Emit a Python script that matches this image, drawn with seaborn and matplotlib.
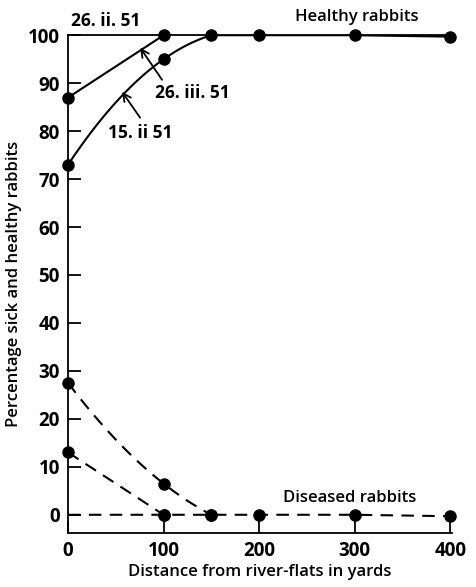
import numpy as np
import pandas as pd
import matplotlib
matplotlib.use("Agg")
import matplotlib.pyplot as plt
import seaborn as sns

# Values
distance_15ii = [0, 100, 150, 200, 300, 400]
healthy_15ii = [73, 95, 100, 100, 100, 99.7]
distance_26ii = [0, 100]
healthy_26ii = [87, 100]

distance_sick_a = [0, 100, 150]
sick_a = [27.5, 6.5, 0]
distance_sick_b = [0, 100]
sick_b = [13, 0]
distance_sick_zero = [100, 150, 200, 300, 400]
sick_zero = [0, 0, 0, 0, -0.3]

x_ticks = [0, 100, 200, 300, 400]
y_ticks = list(range(0, 101, 10))

sns.set_style("ticks")
plt.rcParams['font.family'] = ['Open Sans', 'DejaVu Sans']
plt.rcParams['text.color'] = 'black'
plt.rcParams['axes.labelcolor'] = 'black'
plt.rcParams['xtick.color'] = 'black'
plt.rcParams['ytick.color'] = 'black'

fig = plt.figure(figsize=(4.76, 5.87), dpi=100)
ax = fig.add_axes([0.143, 0.092, 0.807, 0.848])

lw = 1.5
ms = 8


def smooth(xs, ys, deg):
    # hand-drawn style curve through the observed points
    coef = np.polyfit(xs, ys, deg)
    xx = np.linspace(xs[0], xs[-1], 100)
    return pd.DataFrame({"x": xx, "y": np.polyval(coef, xx)})


# healthy curves (solid)
c1 = smooth(distance_15ii[:3], healthy_15ii[:3], 2)
sns.lineplot(data=c1, x="x", y="y", color="black", lw=lw, ax=ax)
sns.lineplot(x=distance_15ii[2:], y=healthy_15ii[2:], color="black", lw=lw, ax=ax)
c2 = smooth(distance_26ii, healthy_26ii, 1)
sns.lineplot(data=c2, x="x", y="y", color="black", lw=lw, ax=ax)

# diseased curves (dashed)
dash = (6, 4)
c3 = smooth(distance_sick_a, sick_a, 2)
ax.plot(c3["x"], c3["y"], color="black", lw=lw, dashes=dash)
c4 = smooth(distance_sick_b, sick_b, 1)
ax.plot(c4["x"], c4["y"], color="black", lw=lw, dashes=dash)
ax.plot([0] + distance_sick_zero, [0] + sick_zero, color="black", lw=lw, dashes=dash)

# points
for xs, ys in [(distance_15ii, healthy_15ii), (distance_26ii, healthy_26ii),
               (distance_sick_a, sick_a), (distance_sick_b, sick_b),
               (distance_sick_zero, sick_zero)]:
    ax.plot(xs, ys, "o", color="black", ms=ms, clip_on=False, zorder=5)

ax.set_xlim(0, 402)
ax.set_ylim(-3.8, 100)
ax.set_xticks(x_ticks)
ax.set_yticks(y_ticks)
ax.tick_params(direction="in", length=9, width=1.3, labelsize=13.5, pad=6)
for lab in ax.get_xticklabels() + ax.get_yticklabels():
    lab.set_fontweight("bold")
for s in ["left", "bottom", "top"]:
    ax.spines[s].set_linewidth(1.3)
    ax.spines[s].set_color("black")
ax.spines["right"].set_visible(False)

ax.set_xlabel("Distance from river-flats in yards", fontsize=12, fontweight="semibold", labelpad=2)
ax.set_ylabel("Percentage sick and healthy rabbits", fontsize=12, fontweight="semibold", labelpad=4)

ann = dict(fontsize=12.5, fontweight="bold", va="center", ha="left")
ax.text(3, 103, "26. ii. 51", clip_on=False, **ann)
ax.text(91, 88, "26. iii. 51", **ann)
ax.text(42, 79.7, "15. ii 51", **ann)
ax.text(237, 103.8, "Healthy rabbits", fontsize=12, fontweight="semibold", va="center", ha="left")
ax.text(225, 3.5, "Diseased rabbits", fontsize=12, fontweight="semibold", va="center", ha="left")

arrow = dict(arrowstyle="->", color="black", lw=1.3, shrinkA=0, shrinkB=0, mutation_scale=14)
ax.annotate("", xy=(75.4, 97.4), xytext=(98.4, 90.7), arrowprops=arrow)
ax.annotate("", xy=(56.5, 88.2), xytext=(75.4, 82.8), arrowprops=arrow)

fig.savefig("out.png", dpi=100)
